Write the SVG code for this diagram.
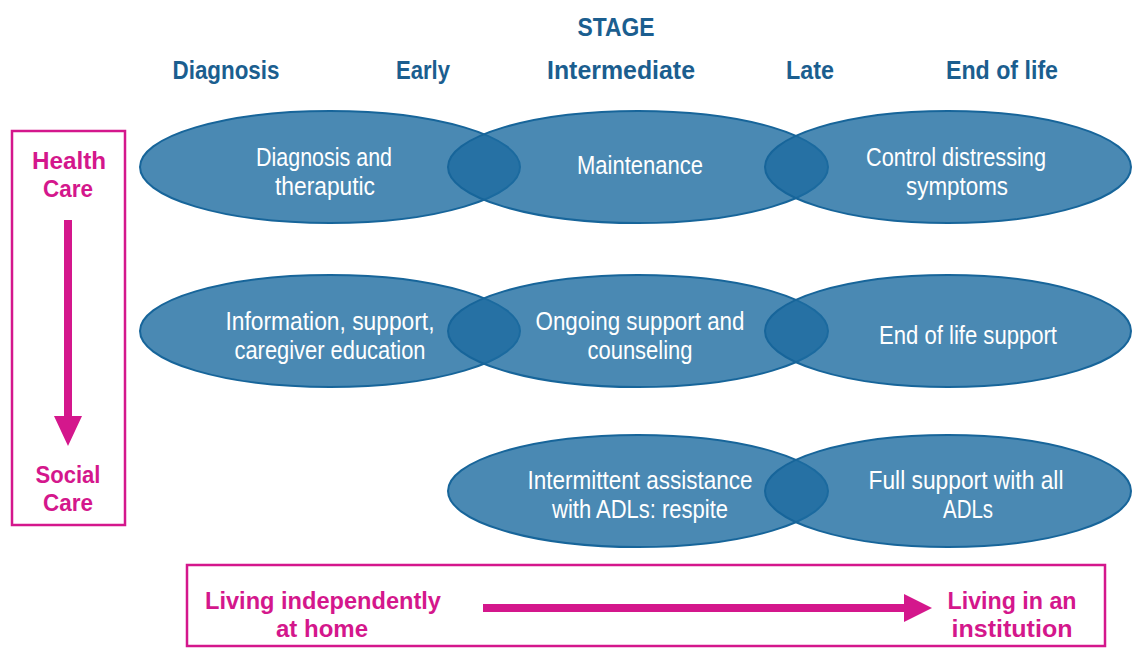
<svg xmlns="http://www.w3.org/2000/svg" width="1133" height="648" viewBox="0 0 1133 648">
<style>
.el{fill:#1d6ba0;fill-opacity:0.8;stroke:#17659a;stroke-width:2}
.t{font-family:"Liberation Sans",Arial,sans-serif;font-size:25px;fill:#ffffff;text-anchor:middle}
.h{font-family:"Liberation Sans",Arial,sans-serif;font-weight:bold;font-size:26px;fill:#1b5e8f;text-anchor:middle}
.p{font-family:"Liberation Sans",Arial,sans-serif;font-weight:bold;font-size:24px;fill:#d4178c;text-anchor:middle}
.box{fill:none;stroke:#d4178c;stroke-width:2.5}
</style>
<rect width="1133" height="648" fill="#ffffff"/>
<g id="header">
<text class="h" x="616" y="36" font-size="32" textLength="77" lengthAdjust="spacingAndGlyphs">STAGE</text>
<text class="h" x="226" y="79" textLength="107" lengthAdjust="spacingAndGlyphs">Diagnosis</text>
<text class="h" x="423" y="79" textLength="54" lengthAdjust="spacingAndGlyphs">Early</text>
<text class="h" x="621" y="79" textLength="148" lengthAdjust="spacingAndGlyphs">Intermediate</text>
<text class="h" x="810" y="79" textLength="48" lengthAdjust="spacingAndGlyphs">Late</text>
<text class="h" x="1002" y="79" textLength="112" lengthAdjust="spacingAndGlyphs">End of life</text>
</g>
<g id="n-diagnosis"><ellipse class="el" cx="330" cy="167" rx="190" ry="56"/></g>
<g id="n-maintenance"><ellipse class="el" cx="638" cy="167" rx="190" ry="56"/></g>
<g id="n-control"><ellipse class="el" cx="948" cy="167" rx="183" ry="56"/></g>
<g id="n-information"><ellipse class="el" cx="330" cy="331" rx="190" ry="56"/></g>
<g id="n-ongoing"><ellipse class="el" cx="638" cy="331" rx="190" ry="56"/></g>
<g id="n-endoflife"><ellipse class="el" cx="948" cy="331" rx="183" ry="56"/></g>
<g id="n-intermittent"><ellipse class="el" cx="638" cy="491" rx="190" ry="56"/></g>
<g id="n-fullsupport"><ellipse class="el" cx="948" cy="491" rx="183" ry="56"/></g>
<g id="labels">
<text class="t" x="324" y="166" textLength="136" lengthAdjust="spacingAndGlyphs">Diagnosis and</text>
<text class="t" x="325" y="195" textLength="100" lengthAdjust="spacingAndGlyphs">theraputic</text>
<text class="t" x="640" y="174" textLength="126" lengthAdjust="spacingAndGlyphs">Maintenance</text>
<text class="t" x="956" y="166" textLength="180" lengthAdjust="spacingAndGlyphs">Control distressing</text>
<text class="t" x="957" y="195" textLength="102" lengthAdjust="spacingAndGlyphs">symptoms</text>
<text class="t" x="330" y="330" textLength="209" lengthAdjust="spacingAndGlyphs">Information, support,</text>
<text class="t" x="330" y="359" textLength="191" lengthAdjust="spacingAndGlyphs">caregiver education</text>
<text class="t" x="640" y="330" textLength="209" lengthAdjust="spacingAndGlyphs">Ongoing support and</text>
<text class="t" x="640" y="359" textLength="105" lengthAdjust="spacingAndGlyphs">counseling</text>
<text class="t" x="968" y="344" textLength="178" lengthAdjust="spacingAndGlyphs">End of life support</text>
<text class="t" x="640" y="489" textLength="225" lengthAdjust="spacingAndGlyphs">Intermittent assistance</text>
<text class="t" x="640" y="518" textLength="176" lengthAdjust="spacingAndGlyphs">with ADLs: respite</text>
<text class="t" x="966" y="489" textLength="195" lengthAdjust="spacingAndGlyphs">Full support with all</text>
<text class="t" x="968" y="518" textLength="50" lengthAdjust="spacingAndGlyphs">ADLs</text>
</g>
<g id="n-care-axis">
<rect class="box" x="12" y="131" width="113" height="394"/>
<text class="p" x="69" y="169" textLength="74" lengthAdjust="spacingAndGlyphs">Health</text>
<text class="p" x="68" y="197" textLength="50" lengthAdjust="spacingAndGlyphs">Care</text>
<text class="p" x="68" y="483" textLength="65" lengthAdjust="spacingAndGlyphs">Social</text>
<text class="p" x="68" y="511" textLength="50" lengthAdjust="spacingAndGlyphs">Care</text>
</g>
<g id="n-living-axis">
<rect class="box" x="187" y="565" width="918" height="81"/>
<text class="p" x="323" y="609" textLength="236" lengthAdjust="spacingAndGlyphs">Living independently</text>
<text class="p" x="322" y="637" textLength="92" lengthAdjust="spacingAndGlyphs">at home</text>
<text class="p" x="1012" y="609" textLength="129" lengthAdjust="spacingAndGlyphs">Living in an</text>
<text class="p" x="1012" y="637" textLength="121" lengthAdjust="spacingAndGlyphs">institution</text>
</g>
<g id="connectors">
<rect x="64" y="220" width="8" height="200" fill="#d4178c"/>
<polygon points="54,416 82,416 68,446" fill="#d4178c"/>
<rect x="483" y="604" width="425" height="8" fill="#d4178c"/>
<polygon points="904,594 904,622 932,608" fill="#d4178c"/>
</g>
</svg>
